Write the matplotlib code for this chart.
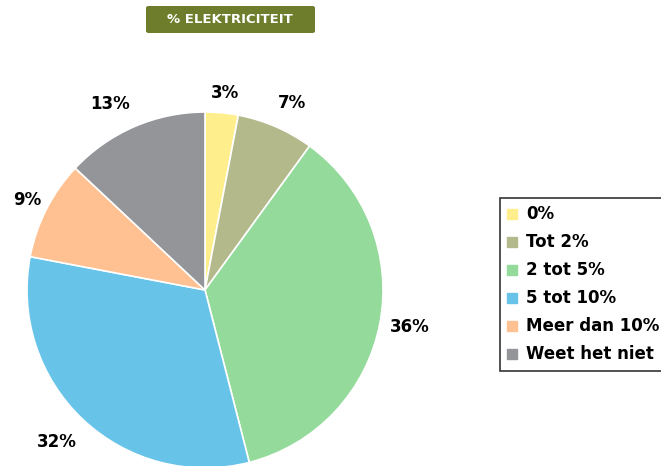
import matplotlib
matplotlib.use("Agg")
import matplotlib.pyplot as plt
from matplotlib.patches import FancyBboxPatch
from matplotlib.lines import Line2D

categories = ["0%", "Tot 2%", "2 tot 5%", "5 tot 10%", "Meer dan 10%", "Weet het niet"]
values = [3, 7, 36, 32, 9, 13]
colors = ["#FFEE8C", "#B3B98A", "#93DA9B", "#68C3E9", "#FFC191", "#939598"]
title = "% ELEKTRICITEIT"

W, H = 661, 466
fig = plt.figure(figsize=(W / 100, H / 100), dpi=100)
ax = fig.add_axes([0, 0, 1, 1])

cx, cy, r = 205, H - 290, 178
ax.pie(values, colors=colors, startangle=90, counterclock=False,
       center=(cx, cy), radius=r, frame=True,
       wedgeprops=dict(edgecolor="white", linewidth=1.2))
ax.set_xlim(0, W)
ax.set_ylim(0, H)
ax.set_aspect("equal")
ax.axis("off")

# label positions (pixel coords from top)
lab_pos = [(225, 93), (292, 103), (410, 327), (57, 442), (27, 200), (110, 104)]
for v, (x, y) in zip(values, lab_pos):
    ax.text(x, H - y, f"{v}%", ha="center", va="center", fontsize=12,
            fontweight="bold", color="black")

# title box
box = FancyBboxPatch((146 / W, 1 - 33 / H), 169 / W, 27 / H,
                     boxstyle="round,pad=0,rounding_size=0.004",
                     transform=fig.transFigure, facecolor="#6E7D2B",
                     edgecolor="none")
fig.patches.append(box)
fig.text(230 / W, 1 - 19.5 / H, title, ha="center", va="center",
         color="white", fontsize=9.5, fontweight="bold")

handles = [Line2D([], [], marker="s", linestyle="none", markersize=7,
                  markerfacecolor=c, markeredgecolor=c) for c in colors]
leg = fig.legend(handles, categories, loc="upper left",
                 bbox_to_anchor=(500 / W, 1 - 198 / H),
                 prop=dict(weight="bold", size=12), frameon=True,
                 fancybox=False, edgecolor="black", handlelength=0.6,
                 handletextpad=0.5, labelspacing=0.6, borderpad=0.45,
                 borderaxespad=0)
leg.get_frame().set_linewidth(1.2)

fig.savefig("out.png", dpi=100)
